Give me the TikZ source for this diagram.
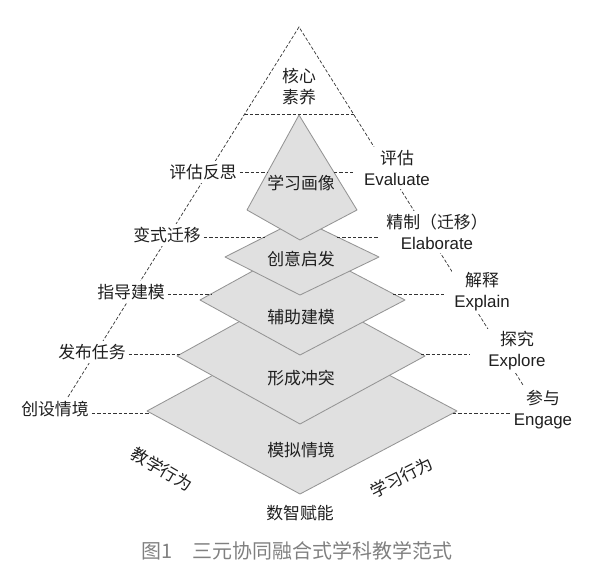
\documentclass[tikz,border=0pt]{standalone}
\usepackage{fontspec}
\setmainfont{Liberation Sans}
\newfontfamily\cjk{Noto Sans CJK SC}
\newfontfamily\en{Liberation Sans}
\usetikzlibrary{calc}

\begin{document}
\begin{tikzpicture}[x=0.025cm, y=-0.025cm,
  every node/.style={font=\cjk\fontsize{12}{15}\selectfont, text=black!88},
  layer/.style={draw=black!42, fill=black!12, line width=0.6pt, line join=round},
  guide/.style={draw=black!80, line width=0.5pt, dash pattern=on 2.4pt off 1.4pt},
  side/.style={fill=white, inner sep=2pt, align=center}]
  \useasboundingbox (0,0) rectangle (600,573);

  % dashed outer triangle
  \coordinate (apex) at (299,27);
  \coordinate (tl) at (68,397);
  \coordinate (tr) at (523,385);
  \coordinate (cl) at (244.5,114.5);
  \coordinate (cr) at (353.5,114.5);
  \draw[guide] (tl) -- (apex) -- (tr);
  \draw[guide] (cl) -- (cr);
  \node[align=center] (core) at (299,87) {核心\\素养};

  % layers, bottom first
  \draw[layer] (147,411) -- (300,328) -- (457,411) -- (300,494) -- cycle;
  \draw[layer] (177,356) -- (300,288) -- (425,356) -- (300,424) -- cycle;
  \draw[layer] (200,300) -- (300,245) -- (405,300) -- (300,355) -- cycle;
  \draw[layer] (225,257) -- (300,219) -- (379,257) -- (300,295) -- cycle;
  \draw[layer] (299,115) -- (357,210) -- (300,240) -- (247,210) -- cycle;

  \node (portrait) at (301,183) {学习画像};
  \node (inspire) at (301,259) {创意启发};
  \node (model) at (301,317) {辅助建模};
  \node (conflict) at (301,378) {形成冲突};
  \node (scene) at (301,450) {模拟情境};
  \node (digital) at (300,513) {数智赋能};
  \node[rotate=-30] (teach) at (162,469) {教学行为};
  \node[rotate=27] (learn) at (402,477) {学习行为};

  % teaching side
  \node[side] (reflect) at (203,172) {评估反思};
  \node[side] (transfer) at (167,235) {变式迁移};
  \node[side] (guidemodel) at (131,292) {指导建模};
  \node[side] (task) at (92,352) {发布任务};
  \node[side] (setscene) at (55,409) {创设情境};

  % learning side
  \node[side] (evaluate) at (397,168) {评估\\{\en Evaluate}};
  \node[side] (elaborate) at (437,232) {精制（迁移）\\{\en Elaborate}};
  \node[side] (explain) at (482,292) {解释\\{\en Explain}};
  \node[side] (explore) at (517,351) {探究\\{\en Explore}};
  \node[side] (engage) at (543,410) {参与\\{\en Engage}};

  % where the guide lines meet the layers
  \coordinate (k1l) at (268,172);   \coordinate (k1r) at (334,172);
  \coordinate (k2l) at (265,237);   \coordinate (k2r) at (337,237);
  \coordinate (k3l) at (211,294);   \coordinate (k3r) at (393,294);
  \coordinate (k4l) at (180,354);   \coordinate (k4r) at (421,354);
  \coordinate (k5l) at (150,413);   \coordinate (k5r) at (453,413);
  \coordinate (e1) at (355,172);
  \coordinate (e2) at (378,237);
  \coordinate (e3) at (445,294);
  \coordinate (e4) at (470,354);
  \coordinate (e5) at (510,413);

  \draw[guide] (k1l -| reflect.east) -- (k1l);
  \draw[guide] (k2l -| transfer.east) -- (k2l);
  \draw[guide] (k3l -| guidemodel.east) -- (k3l);
  \draw[guide] (k4l -| task.east) -- (k4l);
  \draw[guide] (k5l -| setscene.east) -- (k5l);
  \draw[guide] (k1r) -- (e1);
  \draw[guide] (k2r) -- (e2);
  \draw[guide] (k3r) -- (e3);
  \draw[guide] (k4r) -- (e4);
  \draw[guide] (k5r) -- (e5);

  \node[text=black!50, font=\cjk\fontsize{14.2}{17}\selectfont] (caption) at (297,551) {图1\quad 三元协同融合式学科教学范式};
\end{tikzpicture}
\end{document}
